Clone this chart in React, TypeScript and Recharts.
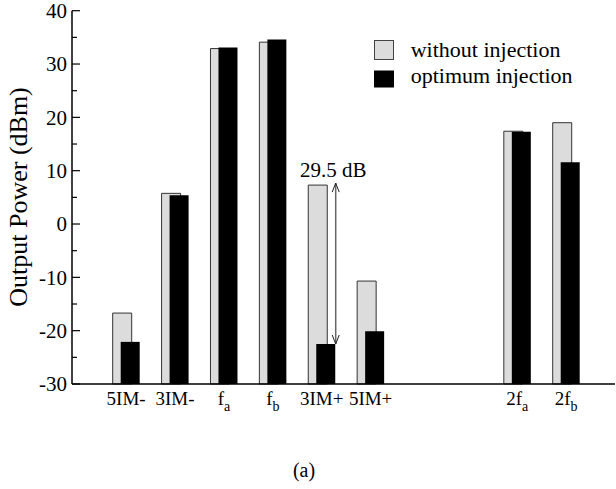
import React from 'react';
import { BarChart, Bar, XAxis, YAxis, ReferenceLine, Legend, Label } from 'recharts';

const FONT = '"Liberation Serif", "DejaVu Serif", serif';

// categories (two empty slots between 5IM+ and 2fa)
const CATEGORIES = ['5IM-', '3IM-', 'fa', 'fb', '3IM+', '5IM+', 'gap1', 'gap2', '2fa', '2fb'];
const LABEL_MAIN = ['5IM-', '3IM-', 'f', 'f', '3IM+', '5IM+', '', '', '2f', '2f'];
const LABEL_SUB = ['', '', 'a', 'b', '', '', '', '', 'a', 'b'];

// output power, dBm
const WITHOUT_INJECTION = [-16.7, 5.75, 32.9, 34.1, 7.3, -10.7, null, null, 17.4, 19.0];
const OPTIMUM_INJECTION = [-22.1, 5.4, 33.1, 34.6, -22.5, -20.1, null, null, 17.3, 11.6];

const Y_TICKS = [-30, -25, -20, -15, -10, -5, 0, 5, 10, 15, 20, 25, 30, 35, 40];
const Y_MIN = -30;
const Y_MAX = 40;

const ARROW_INDEX = 4;
const ARROW_LABEL = '29.5 dB';

const PLOT_LEFT = 72;
const PLOT_RIGHT = 615;

const data = CATEGORIES.map((c, i) => ({
  key: c,
  without: WITHOUT_INJECTION[i],
  optimum: OPTIMUM_INJECTION[i],
}));

const LeftTick = (props: any) => {
  const { y, payload } = props;
  const major = payload.value % 10 === 0;
  return (
    <g>
      <line x1={PLOT_LEFT} x2={PLOT_LEFT + (major ? 8 : 5)} y1={y} y2={y} stroke="#000" strokeWidth={1.2} />
      {major && (
        <text x={67} y={y} dy="0.35em" textAnchor="end" fontSize={21} fontFamily={FONT} fill="#000">
          {String(payload.value)}
        </text>
      )}
    </g>
  );
};

const RightTick = (props: any) => {
  const { y } = props;
  return <line x1={PLOT_RIGHT - 4} x2={PLOT_RIGHT} y1={y} y2={y} stroke="#000" strokeWidth={1.2} />;
};

const XTick = (props: any) => {
  const { x, payload } = props;
  const i = CATEGORIES.indexOf(payload.value);
  if (!LABEL_MAIN[i]) return <g />;
  return (
    <text x={x} y={405} textAnchor="middle" fontSize={19} fontFamily={FONT} fill="#000">
      {LABEL_MAIN[i]}
      {LABEL_SUB[i] && (
        <tspan fontSize={14} dy={6}>
          {LABEL_SUB[i]}
        </tspan>
      )}
    </text>
  );
};

const ArrowShape = (props: any) => {
  const { x1, y1, y2 } = props;
  const x = x1 + 14;
  return (
    <g>
      <line x1={x} x2={x} y1={y1 - 2} y2={y2} stroke="#666" strokeWidth={1.5} />
      <polyline points={`${x - 3.5},${y1 + 7} ${x},${y1 - 2} ${x + 3.5},${y1 + 7}`} fill="none" stroke="#222" strokeWidth={1} />
      <polyline points={`${x - 3.5},${y2 - 9} ${x},${y2} ${x + 3.5},${y2 - 9}`} fill="none" stroke="#222" strokeWidth={1} />
      <text x={x - 2.5} y={y1 - 8} textAnchor="middle" fontSize={21} fontFamily={FONT} fill="#000">
        {ARROW_LABEL}
      </text>
    </g>
  );
};

const LegendContent = () => (
  <svg width={240} height={60} style={{ display: 'block' }}>
    <rect x={2.5} y={2.5} width={19} height={19} fill="#dcdcdc" stroke="#444" strokeWidth={1} />
    <text x={38.7} y={19.3} fontSize={22} fontFamily={FONT} fill="#000">without injection</text>
    <rect x={2} y={32.5} width={20} height={17} fill="#000" />
    <text x={38.7} y={45.3} fontSize={22} fontFamily={FONT} fill="#000">optimum injection</text>
  </svg>
);

const App = () => {
  return (
    <div style={{ position: 'absolute', left: 0, top: 0, width: 616, height: 489, background: '#fff' }}>
      <BarChart
        width={616}
        height={489}
        data={data}
        margin={{ top: 10.7, right: 0, left: 0, bottom: 65 }}
        barGap={-11}
      >
        <XAxis
          dataKey="key"
          type="category"
          height={40}
          padding={{ left: 29.7, right: 24.4 }}
          axisLine={{ stroke: '#000', strokeWidth: 1.5 }}
          tickLine={false}
          tick={<XTick />}
          interval={0}
        />
        <XAxis xAxisId="top" orientation="top" height={0} axisLine={{ stroke: '#000', strokeWidth: 2 }} tickLine={false} tick={false} />
        <YAxis
          type="number"
          domain={[Y_MIN, Y_MAX]}
          ticks={Y_TICKS}
          interval={0}
          width={72}
          axisLine={{ stroke: '#000', strokeWidth: 1.5 }}
          tickLine={false}
          tick={<LeftTick />}
        >
          <Label
            content={() => (
              <text transform="translate(27, 197) rotate(-90)" textAnchor="middle" fontSize={26} fontFamily={FONT} fill="#000">
                Output Power (dBm)
              </text>
            )}
          />
        </YAxis>
        <YAxis
          yAxisId="right"
          orientation="right"
          type="number"
          domain={[Y_MIN, Y_MAX]}
          ticks={Y_TICKS}
          interval={0}
          width={1}
          axisLine={false}
          tickLine={false}
          tick={<RightTick />}
        />
        <Legend
          layout="vertical"
          align="center"
          verticalAlign="middle"
          content={<LegendContent />}
          wrapperStyle={{ top: 37.5, left: 372, width: 240, height: 60 }}
        />
        <Bar
          dataKey={(d: any) => (d.without == null ? [Y_MIN, Y_MIN] : [Y_MIN, d.without])}
          name="without injection"
          barSize={19}
          fill="#dcdcdc"
          stroke="#333"
          strokeWidth={1}
          isAnimationActive={false}
        />
        <Bar
          dataKey={(d: any) => (d.optimum == null ? [Y_MIN, Y_MIN] : [Y_MIN, d.optimum])}
          name="optimum injection"
          barSize={19}
          fill="#000"
          isAnimationActive={false}
        />
        <ReferenceLine
          segment={[
            { x: CATEGORIES[ARROW_INDEX], y: WITHOUT_INJECTION[ARROW_INDEX] as number },
            { x: CATEGORIES[ARROW_INDEX], y: OPTIMUM_INJECTION[ARROW_INDEX] as number },
          ]}
          ifOverflow="visible"
          shape={<ArrowShape />}
        />
      </BarChart>
      <div
        style={{
          position: 'absolute',
          left: 254,
          top: 460,
          width: 100,
          textAlign: 'center',
          fontFamily: FONT,
          fontSize: 20,
          lineHeight: '20px',
        }}
      >
        (a)
      </div>
    </div>
  );
};

export default App;
